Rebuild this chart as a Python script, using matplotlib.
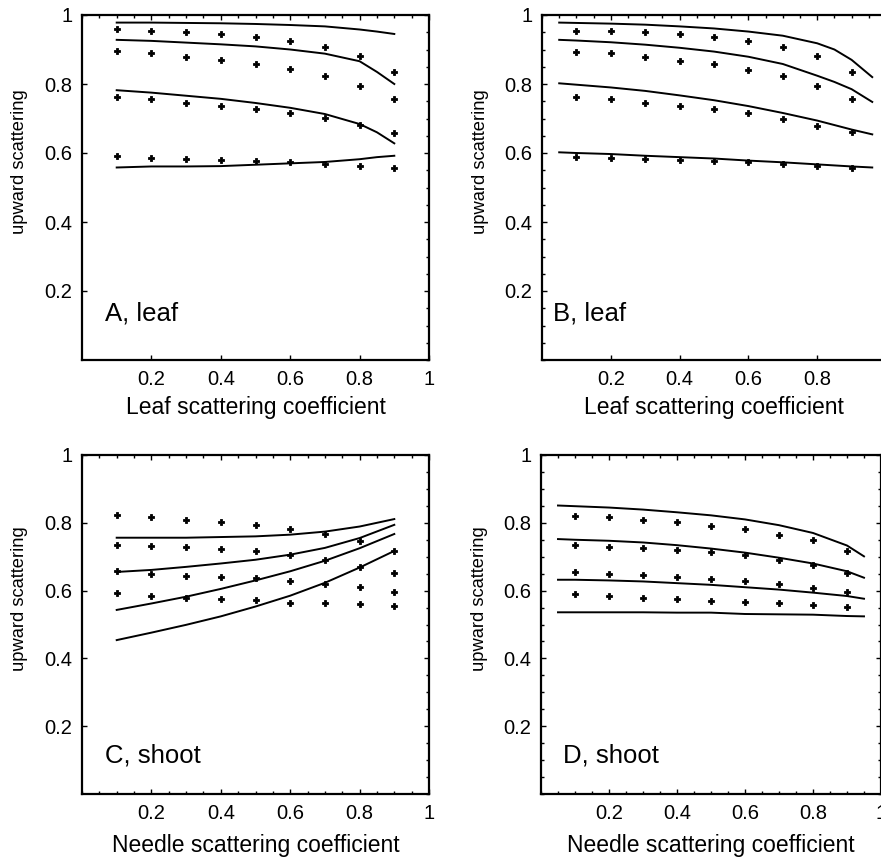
import numpy as np
import matplotlib
matplotlib.use('Agg')
import matplotlib.pyplot as plt
from matplotlib.ticker import MultipleLocator, FixedLocator

plt.rcParams['font.family'] = ['Liberation Sans', 'DejaVu Sans']

# measured points (same x for every panel)
DOT_X = [0.1, 0.2, 0.3, 0.4, 0.5, 0.6, 0.7, 0.8, 0.9]

A_DOTS = [
    [0.958, 0.955, 0.951, 0.945, 0.935, 0.924, 0.908, 0.881, 0.836],
    [0.896, 0.889, 0.879, 0.870, 0.858, 0.843, 0.823, 0.794, 0.757],
    [0.763, 0.757, 0.746, 0.736, 0.728, 0.715, 0.701, 0.680, 0.657],
    [0.591, 0.586, 0.583, 0.580, 0.578, 0.575, 0.567, 0.563, 0.556],
]
B_DOTS = [
    [0.955, 0.955, 0.950, 0.944, 0.935, 0.925, 0.906, 0.881, 0.836],
    [0.894, 0.889, 0.879, 0.868, 0.858, 0.841, 0.823, 0.794, 0.756],
    [0.763, 0.757, 0.746, 0.736, 0.727, 0.715, 0.698, 0.679, 0.660],
    [0.589, 0.585, 0.583, 0.580, 0.577, 0.573, 0.568, 0.563, 0.556],
]
C_DOTS = [
    [0.824, 0.816, 0.809, 0.801, 0.794, 0.782, 0.768, 0.745, 0.716],
    [0.735, 0.732, 0.729, 0.724, 0.716, 0.706, 0.691, 0.671, 0.652],
    [0.657, 0.650, 0.644, 0.639, 0.637, 0.628, 0.620, 0.610, 0.596],
    [0.593, 0.585, 0.578, 0.575, 0.571, 0.564, 0.564, 0.559, 0.554],
]
D_DOTS = [
    [0.821, 0.816, 0.807, 0.801, 0.791, 0.781, 0.765, 0.748, 0.716],
    [0.735, 0.730, 0.725, 0.721, 0.714, 0.704, 0.689, 0.676, 0.652],
    [0.654, 0.649, 0.645, 0.639, 0.635, 0.627, 0.620, 0.608, 0.595],
    [0.591, 0.583, 0.578, 0.574, 0.569, 0.566, 0.562, 0.557, 0.552],
]

# model curves
A_LINE_X = [0.1, 0.2, 0.3, 0.4, 0.5, 0.6, 0.7, 0.8, 0.85, 0.9]
A_LINES = [
    [0.978, 0.978, 0.977, 0.976, 0.974, 0.971, 0.967, 0.958, 0.952, 0.945],
    [0.928, 0.925, 0.920, 0.915, 0.909, 0.900, 0.888, 0.866, 0.835, 0.800],
    [0.782, 0.775, 0.766, 0.757, 0.745, 0.731, 0.713, 0.684, 0.660, 0.628],
    [0.558, 0.561, 0.561, 0.562, 0.566, 0.570, 0.574, 0.582, 0.588, 0.592],
]
B_LINE_X = [0.05, 0.1, 0.2, 0.3, 0.4, 0.5, 0.6, 0.7, 0.8, 0.85, 0.9, 0.96]
B_LINES = [
    [0.978, 0.977, 0.975, 0.972, 0.967, 0.961, 0.952, 0.940, 0.918, 0.900, 0.870, 0.820],
    [0.928, 0.926, 0.921, 0.914, 0.905, 0.894, 0.879, 0.858, 0.824, 0.806, 0.785, 0.748],
    [0.802, 0.798, 0.790, 0.780, 0.767, 0.753, 0.736, 0.716, 0.694, 0.681, 0.668, 0.654],
    [0.602, 0.600, 0.597, 0.592, 0.588, 0.584, 0.578, 0.573, 0.567, 0.564, 0.561, 0.558],
]
C_LINE_X = [0.1, 0.2, 0.3, 0.4, 0.5, 0.6, 0.7, 0.8, 0.9]
C_LINES = [
    [0.756, 0.756, 0.756, 0.758, 0.760, 0.765, 0.774, 0.789, 0.811],
    [0.655, 0.661, 0.670, 0.680, 0.691, 0.706, 0.726, 0.755, 0.794],
    [0.543, 0.562, 0.582, 0.605, 0.630, 0.657, 0.688, 0.725, 0.767],
    [0.454, 0.476, 0.499, 0.524, 0.553, 0.585, 0.623, 0.668, 0.717],
]
D_LINE_X = [0.05, 0.1, 0.2, 0.3, 0.4, 0.5, 0.6, 0.7, 0.8, 0.9, 0.95]
D_LINES = [
    [0.851, 0.849, 0.845, 0.839, 0.831, 0.822, 0.810, 0.793, 0.770, 0.733, 0.701],
    [0.752, 0.750, 0.747, 0.742, 0.734, 0.724, 0.712, 0.697, 0.680, 0.657, 0.638],
    [0.632, 0.632, 0.630, 0.627, 0.622, 0.617, 0.610, 0.603, 0.594, 0.584, 0.576],
    [0.536, 0.536, 0.536, 0.536, 0.535, 0.535, 0.531, 0.530, 0.529, 0.525, 0.524],
]

TICKS = [0.2, 0.4, 0.6, 0.8, 1.0]
TICK_LABELS = ['0.2', '0.4', '0.6', '0.8', '1']

PANELS = [
    # label, xlabel, dots, line x, lines, axes rect (px), label pos,
    # left minor, bottom minor, xlabel y, show x "1"
    ('A, leaf', 'Leaf scattering coefficient', A_DOTS, A_LINE_X, A_LINES,
     (82, 15, 429, 360), (0.065, 0.115), False, False, -0.105, True),
    ('B, leaf', 'Leaf scattering coefficient', B_DOTS, B_LINE_X, B_LINES,
     (542, 15, 886, 360), (0.032, 0.115), True, False, -0.105, False),
    ('C, shoot', 'Needle scattering coefficient', C_DOTS, C_LINE_X, C_LINES,
     (82, 455, 429, 794), (0.065, 0.094), False, True, -0.117, True),
    ('D, shoot', 'Needle scattering coefficient', D_DOTS, D_LINE_X, D_LINES,
     (541, 455, 881, 794), (0.065, 0.094), True, True, -0.117, True),
]

W, H = 881, 858
fig = plt.figure(figsize=(W / 100, H / 100), dpi=100)

for label, xlabel, dots, line_x, lines, rect, lpos, lminor, bminor, xl_y, show_one in PANELS:
    x0, y0, x1, y1 = rect
    ax = fig.add_axes([x0 / W, 1 - y1 / H, (x1 - x0) / W, (y1 - y0) / H])
    for ys in lines:
        ax.plot(line_x, ys, color='black', lw=1.4)
    for ys in dots:
        ax.plot(DOT_X, ys, ls='none', marker='P', ms=5, color='black', mew=0.6)
    ax.set_xlim(0, 1)
    ax.set_ylim(0, 1)
    ax.xaxis.set_major_locator(FixedLocator(TICKS))
    ax.yaxis.set_major_locator(FixedLocator(TICKS))
    xt = TICK_LABELS if show_one else TICK_LABELS[:-1] + ['']
    ax.set_xticklabels(xt)
    ax.set_yticklabels(TICK_LABELS)
    ax.xaxis.set_minor_locator(MultipleLocator(0.05))
    ax.yaxis.set_minor_locator(MultipleLocator(0.05))
    ax.tick_params(which='both', direction='in', top=True, right=True, width=1.0)
    ax.tick_params(which='major', length=3.5, labelsize=14.5, pad=7)
    ax.tick_params(which='minor', length=2.0, left=lminor, bottom=bminor)
    for sp in ax.spines.values():
        sp.set_linewidth(1.6)
    ax.set_xlabel(xlabel, fontsize=16.5, va='top')
    ax.xaxis.set_label_coords(0.5, xl_y)
    ax.set_ylabel('upward scattering', fontsize=13.2)
    ax.yaxis.set_label_coords(-0.155, 0.575)
    ax.text(lpos[0], lpos[1], label, fontsize=18.5, va='baseline', ha='left')

fig.savefig('out.png', dpi=100)
